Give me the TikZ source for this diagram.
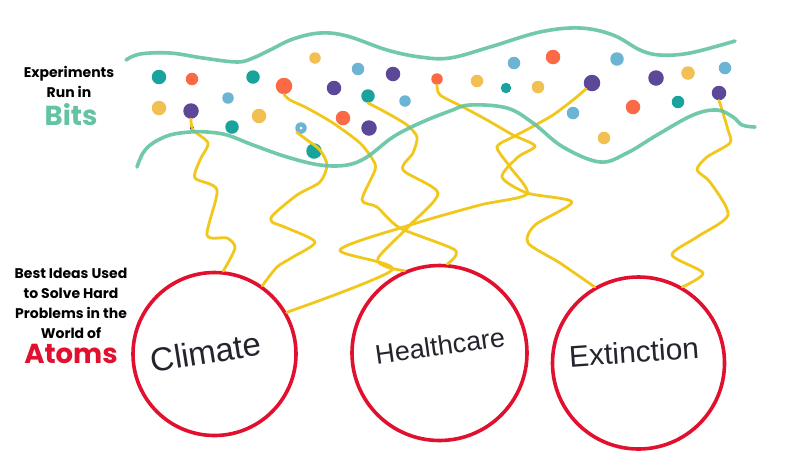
\documentclass[tikz,border=0pt]{standalone}
\usepackage{fontspec}
\setmainfont{Liberation Sans}
\newfontfamily\popfont{Poppins}
\definecolor{cteal}{HTML}{1AA39C}
\definecolor{corange}{HTML}{FB6A45}
\definecolor{cyellow}{HTML}{F1BF52}
\definecolor{cblue}{HTML}{6DB4D4}
\definecolor{cpurple}{HTML}{5C4899}
\definecolor{cgreen}{HTML}{63C3A2}
\definecolor{cline}{HTML}{F2C71C}
\definecolor{cred}{HTML}{E1102F}
\definecolor{cink}{HTML}{24242E}
\begin{document}
\begin{tikzpicture}[x=1pt,y=-1pt,
  dot/.style={circle,inner sep=0pt,minimum size=#1+1.5pt},
  dot/.default=12,
  wire/.style={draw=cline,line width=2.8pt,line cap=round,line join=round},
  band/.style={draw=cgreen,line width=3.6pt,line cap=round,opacity=0.9},
  ring/.style={circle,draw=cred,line width=3.6pt,inner sep=0pt,minimum size=#1},
  hand/.style={text=cink,inner sep=0pt},
  lab/.style={font=\popfont\bfseries\fontsize{14}{16}\selectfont,anchor=base,inner sep=0pt},
  big/.style={font=\popfont\bfseries\fontsize{27.5}{29}\selectfont,anchor=base,inner sep=0pt}]
\useasboundingbox (0,0) rectangle (800,456);
\fill[white] (0,0) rectangle (800,456);

% dots
\node[dot=13,fill=cteal]   (d1)  at (159,77) {};
\node[dot=11,fill=corange] (d2)  at (192,79) {};
\node[dot=12,fill=cteal]   (d3)  at (253,77) {};
\node[dot=15,fill=corange] (d4)  at (284,86) {};
\node[dot=10,fill=cyellow] (d5)  at (315,58) {};
\node[dot=11,fill=cblue]   (d6)  at (358,69) {};
\node[dot=13,fill=cpurple] (d7)  at (393,74) {};
\node[dot=10,fill=corange] (d8)  at (437,79) {};
\node[dot=13,fill=cyellow] (d9)  at (159,108) {};
\node[dot=14,fill=cpurple] (d10) at (191,111) {};
\node[dot=10,fill=cblue]   (d11) at (228,98) {};
\node[dot=13,fill=cyellow] (d12) at (259,116) {};
\node[dot=13,fill=cpurple] (d13) at (334,88) {};
\node[dot=12,fill=cteal]   (d14) at (368,96) {};
\node[dot=10,fill=cblue]   (d15) at (405,101) {};
\node[dot=12,fill=cteal]   (d16) at (232,127) {};
\node[dot=13,fill=corange] (d17) at (343,118) {};
\node[dot=14,fill=cpurple] (d18) at (369,128) {};
\node[dot=10,fill=cblue]   (d19) at (301,128) {};
\node[circle,inner sep=0pt,minimum size=3pt,fill=white] (d19c) at (301,128) {};
\node[dot=14,fill=cteal]   (d20) at (314,151) {};
\node[dot=11,fill=cblue]   (d21) at (514,63) {};
\node[dot=13,fill=corange] (d22) at (553,57) {};
\node[dot=12,fill=cblue]   (d23) at (617,59) {};
\node[dot=11,fill=cyellow] (d24) at (477,81) {};
\node[dot=9,fill=cteal]    (d25) at (506,88) {};
\node[dot=11,fill=cyellow] (d26) at (538,87) {};
\node[dot=15,fill=cpurple] (d27) at (592,83) {};
\node[dot=14,fill=cpurple] (d28) at (656,78) {};
\node[dot=12,fill=cyellow] (d29) at (688,73) {};
\node[dot=11,fill=cblue]   (d30) at (725,68) {};
\node[dot=11,fill=cblue]   (d31) at (573,113) {};
\node[dot=13,fill=corange] (d32) at (633,107) {};
\node[dot=11,fill=cteal]   (d33) at (678,102) {};
\node[dot=13,fill=cpurple] (d34) at (719,93) {};
\node[dot=11,fill=cyellow] (d35) at (604,138) {};
\node[circle,inner sep=0pt,minimum size=4pt,fill=black] (d36) at (192,128) {};

% circles
\node[ring=163pt] (climate) at (214.5,354) {};
\node[ring=175pt] (health)  at (439.5,353) {};
\node[ring=172pt] (extinct) at (638.5,363) {};

% yellow wires
\draw[wire] plot[smooth,tension=0.45] coordinates {(d10.south) (193,130) (208,143) (200,160) (195,178) (217,190) (207,235) (227,238) (235,248) (climate.84)};
\draw[wire] plot[smooth,tension=0.45] coordinates {(d19.south west) (307,140) (320,150) (327,165) (320,182) (297,195) (273,215) (272,222) (287,228) (315,242) (293,257) (277,267) (climate.55)};
\draw[wire] plot[smooth,tension=0.45] coordinates {(d4.south) (290,100) (307,108) (333,123) (360,143) (373,160) (375,170) (362,200) (377,207) (400,228) (455,250) (health.85)};
\draw[wire] plot[smooth,tension=0.45] coordinates {(d14.south) (387,113) (407,125) (417,137) (413,153) (403,170) (438,193) (410,225) (378,258) (387,267) (health.113)};
\draw[wire] plot[smooth,tension=0.45] coordinates {(d27.south west) (573,100) (553,115) (530,128) (513,137) (497,147) (510,167) (527,194) (480,205) (410,225) (340,250) (392,270) (climate.30)};
\draw[wire] plot[smooth,tension=0.45] coordinates {(d8.south) (440,95) (463,107) (487,120) (513,135) (535,146) (518,157) (502,177) (527,193) (572,202) (535,225) (528,243) (560,263) (extinct.120)};
\draw[wire] plot[smooth,tension=0.45] coordinates {(d34.south) (723,113) (728,130) (730,143) (707,157) (697,170) (710,182) (728,215) (697,237) (672,255) (703,273) (extinct.60)};

% green bands
\draw[band] plot[smooth,tension=0.6] coordinates {(126,60) (140,54) (170,53) (203,58) (237,62) (253,58) (270,50) (293,39) (320,33) (347,36) (387,50) (420,57) (450,58) (490,47) (540,32) (580,28) (613,35) (640,50) (660,55) (690,53) (735,41)};
\draw[band] plot[smooth,tension=0.6] coordinates {(137,167) (143,153) (153,143) (170,135) (190,132) (207,132) (227,135) (253,145) (287,157) (320,165) (347,165) (367,157) (393,137) (420,123) (450,111) (470,105) (507,108) (533,123) (563,147) (600,162) (627,153) (657,135) (693,115) (717,110) (733,117) (742,125) (755,127)};

% handwriting
\node[hand,rotate=9,font=\fontsize{33}{36}\selectfont] (tclimate) at (206,352) {Climate};
\node[hand,rotate=8,font=\fontsize{27}{30}\selectfont] (thealth) at (440,346) {Healthcare};
\node[hand,rotate=4,font=\fontsize{30}{33}\selectfont] (textinct) at (634,352) {Extinction};

% left labels
\node[lab] (l1) at (69,77) {Experiments};
\node[lab] (l2) at (69,97) {Run in};
\node[big,text=cgreen] (l3) at (71,125) {Bits};
\node[lab] (l4) at (71,278) {Best Ideas Used};
\node[lab] (l5) at (71,298) {to Solve Hard};
\node[lab] (l6) at (71,318) {Problems in the};
\node[lab] (l7) at (71,338) {World of};
\node[big,text=cred] (l8) at (71,363) {Atoms};
\end{tikzpicture}
\end{document}
